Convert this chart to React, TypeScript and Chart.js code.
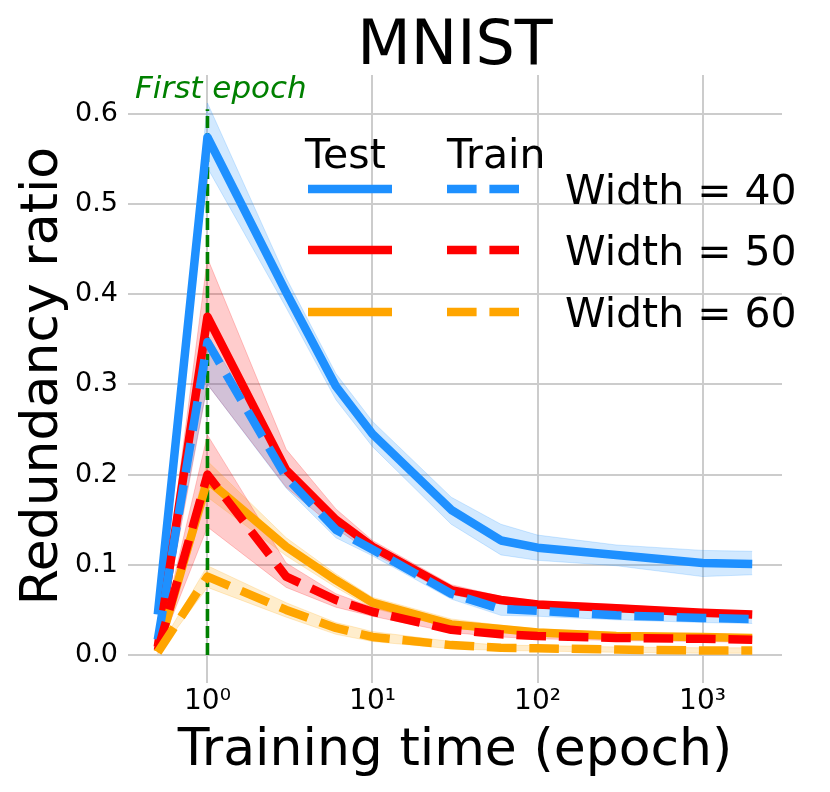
import React, { useEffect, useRef } from 'react';
import { Chart, registerables } from 'chart.js';

Chart.register(...registerables);

// ---- data ----
const epochs = [0.5, 1, 3, 6, 10, 30, 60, 100, 300, 1000, 2000];

const testW40 = [0.045, 0.574, 0.402, 0.298, 0.245, 0.161, 0.127, 0.119, 0.111, 0.102, 0.101];
const testW40Lo = [0.035, 0.54, 0.385, 0.283, 0.231, 0.145, 0.111, 0.105, 0.099, 0.087, 0.089];
const testW40Hi = [0.055, 0.612, 0.418, 0.312, 0.259, 0.175, 0.145, 0.133, 0.122, 0.116, 0.115];

const testW50 = [0.009, 0.375, 0.205, 0.15, 0.12, 0.072, 0.061, 0.056, 0.052, 0.047, 0.045];
const testW50Lo = [0.004, 0.3, 0.186, 0.14, 0.113, 0.067, 0.057, 0.052, 0.048, 0.044, 0.042];
const testW50Hi = [0.014, 0.44, 0.228, 0.162, 0.127, 0.078, 0.065, 0.06, 0.056, 0.05, 0.048];

const testW60 = [0.004, 0.194, 0.12, 0.083, 0.058, 0.034, 0.029, 0.025, 0.021, 0.02, 0.019];
const testW60Lo = [0.001, 0.175, 0.11, 0.075, 0.052, 0.03, 0.025, 0.022, 0.018, 0.017, 0.016];
const testW60Hi = [0.007, 0.215, 0.13, 0.09, 0.064, 0.04, 0.033, 0.029, 0.025, 0.023, 0.022];

const trainW40 = [0.017, 0.347, 0.197, 0.139, 0.117, 0.068, 0.051, 0.049, 0.044, 0.041, 0.04];
const trainW40Lo = [0.012, 0.3, 0.185, 0.13, 0.11, 0.062, 0.044, 0.043, 0.039, 0.036, 0.035];
const trainW40Hi = [0.022, 0.355, 0.21, 0.148, 0.124, 0.075, 0.056, 0.054, 0.049, 0.046, 0.045];

const trainW50 = [0.005, 0.2, 0.087, 0.061, 0.048, 0.028, 0.023, 0.021, 0.019, 0.018, 0.017];
const trainW50Lo = [0.002, 0.142, 0.075, 0.053, 0.043, 0.025, 0.02, 0.018, 0.016, 0.015, 0.014];
const trainW50Hi = [0.008, 0.244, 0.102, 0.068, 0.053, 0.031, 0.026, 0.024, 0.022, 0.021, 0.02];

const trainW60 = [0.003, 0.087, 0.05, 0.03, 0.02, 0.011, 0.008, 0.0075, 0.006, 0.005, 0.005];
const trainW60Lo = [0.001, 0.075, 0.042, 0.023, 0.015, 0.007, 0.005, 0.0045, 0.003, 0.002, 0.002];
const trainW60Hi = [0.005, 0.099, 0.058, 0.036, 0.026, 0.015, 0.011, 0.0105, 0.009, 0.008, 0.008];

const firstEpoch = 1;
const firstEpochTop = 0.605;

const xTicks = [1, 10, 100, 1000];
const xTickLabels = ['10\u2070', '10\u00B9', '10\u00B2', '10\u00B3'];
const yTicks = [0, 0.1, 0.2, 0.3, 0.4, 0.5, 0.6];
const widthLabels = ['Width = 40', 'Width = 50', 'Width = 60'];

const BLUE = '#1e90ff';
const RED = '#ff0000';
const ORANGE = '#ffa500';
const GREEN = '#008000';
const FONT = '"DejaVu Sans", sans-serif';

const pts = (vals: number[]) => epochs.map((x, i) => ({ x, y: vals[i] }));

export default function App() {
  const ref = useRef<HTMLCanvasElement | null>(null);

  useEffect(() => {
    if (!ref.current) return;
    const dash = [29.6, 12.8];
    const lw = 8.5;
    const line = (vals: number[], color: string, dashed: boolean) => ({
      data: pts(vals),
      borderColor: color,
      backgroundColor: color,
      borderWidth: lw,
      borderDash: dashed ? dash : [],
      borderCapStyle: 'butt',
      borderJoinStyle: 'round',
      pointRadius: 0,
      fill: false,
      tension: 0,
    });

    const datasets: any[] = [
      line(trainW60, ORANGE, true),
      line(trainW50, RED, true),
      line(trainW40, BLUE, true),
      line(testW60, ORANGE, false),
      line(testW50, RED, false),
      line(testW40, BLUE, false),
      {
        data: [{ x: firstEpoch, y: 0 }, { x: firstEpoch, y: firstEpochTop }],
        borderColor: GREEN,
        borderWidth: 3.6,
        borderDash: [12, 5],
        borderCapStyle: 'butt',
        pointRadius: 0,
        fill: false,
      },
    ];

    const bands: [number[], number[], string][] = [
      [testW40Lo, testW40Hi, 'rgba(30,144,255,0.2)'],
      [trainW40Lo, trainW40Hi, 'rgba(30,144,255,0.2)'],
      [testW50Lo, testW50Hi, 'rgba(255,0,0,0.2)'],
      [trainW50Lo, trainW50Hi, 'rgba(255,0,0,0.2)'],
      [testW60Lo, testW60Hi, 'rgba(255,165,0,0.2)'],
      [trainW60Lo, trainW60Hi, 'rgba(255,165,0,0.2)'],
    ];
    bands.forEach(([lo, hi, c]) => {
      const loIdx = datasets.length;
      datasets.push({ data: pts(lo), borderColor: c, borderWidth: 1, pointRadius: 0, fill: false, tension: 0 });
      datasets.push({ data: pts(hi), borderColor: c, borderWidth: 1, pointRadius: 0, backgroundColor: c, fill: loIdx, tension: 0 });
    });

    const textPlugin = {
      id: 'texts',
      afterDraw(chart: any) {
        const ctx = chart.ctx as CanvasRenderingContext2D;
        ctx.save();
        ctx.fillStyle = '#000';
        ctx.textBaseline = 'alphabetic';
        // title
        ctx.font = `62px ${FONT}`;
        ctx.textAlign = 'center';
        ctx.fillText('MNIST', 455, 64);
        // x title
        ctx.font = `52px ${FONT}`;
        ctx.fillText('Training time (epoch)', 455, 765);
        // y title
        ctx.save();
        ctx.translate(57, 376);
        ctx.rotate(-Math.PI / 2);
        ctx.fillText('Redundancy ratio', 0, 0);
        ctx.restore();
        // first epoch
        ctx.fillStyle = GREEN;
        ctx.font = `italic 31px ${FONT}`;
        ctx.textAlign = 'left';
        ctx.fillText('First epoch', 135, 98);
        // legend
        ctx.fillStyle = '#000';
        ctx.font = `41px ${FONT}`;
        ctx.fillText('Test', 305, 168);
        ctx.fillText('Train', 447, 168);
        const rows = [189, 250, 312];
        const cols = [BLUE, RED, ORANGE];
        rows.forEach((y, i) => {
          ctx.lineWidth = lw;
          ctx.lineCap = 'butt';
          ctx.strokeStyle = cols[i];
          ctx.setLineDash([]);
          ctx.beginPath();
          ctx.moveTo(308, y);
          ctx.lineTo(392, y);
          ctx.stroke();
          ctx.setLineDash(dash);
          ctx.beginPath();
          ctx.moveTo(447, y);
          ctx.lineTo(521, y);
          ctx.stroke();
          ctx.setLineDash([]);
          ctx.fillStyle = '#000';
          ctx.fillText(widthLabels[i], 565, y + 15);
        });
        ctx.restore();
      },
    };

    const chart = new Chart(ref.current, {
      type: 'line',
      data: { datasets },
      options: {
        animation: false,
        responsive: false,
        maintainAspectRatio: false,
        layout: { padding: { top: 75, right: 48, left: 0, bottom: 0 } },
        plugins: {
          legend: { display: false },
          title: { display: false },
          tooltip: { enabled: false },
          filler: { drawTime: 'beforeDatasetsDraw' },
        },
        scales: {
          x: {
            type: 'logarithmic',
            bounds: 'data',
            min: 0.33,
            max: 3030,
            afterBuildTicks: (s: any) => {
              s.ticks = xTicks.map((v) => ({ value: v }));
              s.min = 0.33;
              s.max = 3030;
            },
            afterFit: (s: any) => {
              s.height = 109;
            },
            ticks: {
              autoSkip: false,
              maxRotation: 0,
              padding: 2,
              color: '#000',
              font: { family: FONT, size: 28 },
              callback: (v: any) => xTickLabels[xTicks.indexOf(Number(v))],
            },
            grid: { color: '#cccccc', lineWidth: 2, drawTicks: false },
            border: { display: false },
          },
          y: {
            type: 'linear',
            min: -0.031,
            max: 0.643,
            afterBuildTicks: (s: any) => {
              s.ticks = yTicks.map((v) => ({ value: v }));
            },
            afterFit: (s: any) => {
              s.width = 128;
            },
            ticks: {
              padding: 10,
              color: '#000',
              font: { family: FONT, size: 27 },
              callback: (v: any) => Number(v).toFixed(1),
            },
            grid: { color: '#cccccc', lineWidth: 2, drawTicks: false },
            border: { display: false },
          },
        },
      } as any,
      plugins: [textPlugin],
    });
    return () => chart.destroy();
  }, []);

  return (
    <div style={{ position: 'absolute', left: 0, top: 0, width: 830, height: 792, background: '#fff' }}>
      <canvas ref={ref} width={830} height={792} style={{ width: 830, height: 792 }} />
    </div>
  );
}
